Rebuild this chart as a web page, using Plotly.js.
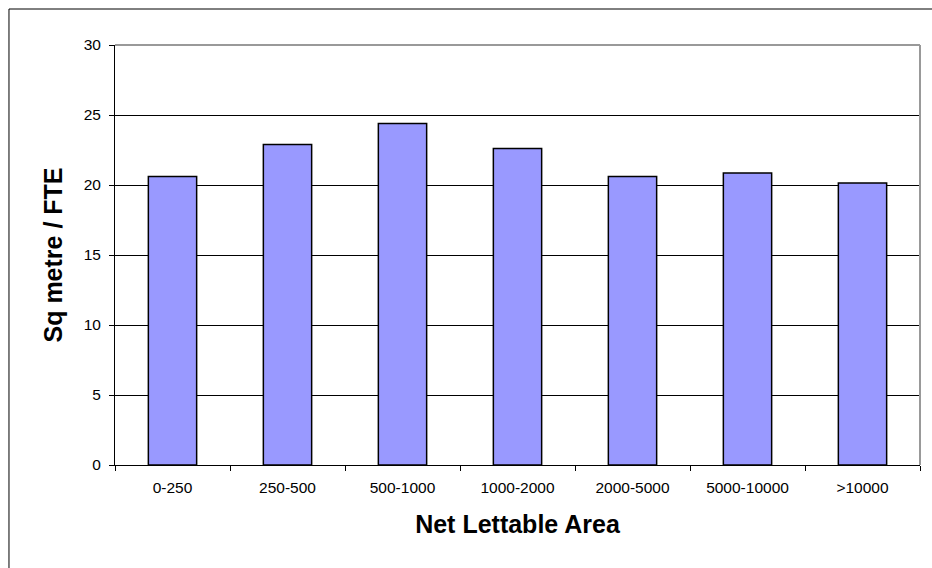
<!DOCTYPE html>
<html>
<head>
<meta charset="utf-8">
<script src="https://cdn.plot.ly/plotly-3.0.1.min.js"></script>
<style>
  html, body { margin: 0; padding: 0; background: #fff; overflow: hidden; }
  #chart { width: 932px; height: 568px; }
</style>
</head>
<body>
<div id="chart"></div>
<script>
// Space per full-time employee, by size band of net lettable area
const categories = ['0-250', '250-500', '500-1000', '1000-2000', '2000-5000', '5000-10000', '>10000'];
const sqMetrePerFte = [20.6, 22.9, 24.4, 22.6, 20.6, 20.85, 20.15];
const yTickValues = [0, 5, 10, 15, 20, 25, 30];

const font = 'Liberation Sans, Arial, sans-serif';

const trace = {
  type: 'bar',
  x: categories,
  y: sqMetrePerFte,
  marker: { color: '#9999FF', line: { color: '#000000', width: 1.5 } },
  hoverinfo: 'x+y'
};

const layout = {
  width: 932,
  height: 568,
  margin: { l: 115, r: 12, t: 45, b: 103 },
  paper_bgcolor: '#ffffff',
  plot_bgcolor: '#ffffff',
  showlegend: false,
  bargap: 0.58,
  font: { family: font, size: 15, color: '#000000' },
  xaxis: {
    type: 'category',
    showline: true,
    linecolor: '#000000',
    linewidth: 1,
    ticks: 'outside',
    tickson: 'boundaries',
    ticklen: 5,
    tickcolor: '#000000',
    ticklabelstandoff: 8,
    showgrid: false,
    zeroline: false,
    tickfont: { family: font, size: 15.5, color: '#000000' },
    title: { text: 'Net Lettable Area', font: { family: font, size: 25, color: '#000000', weight: 'bold' }, standoff: 20 }
  },
  yaxis: {
    range: [0, 30],
    tickvals: yTickValues,
    ticktext: yTickValues.map(String),
    showline: true,
    linecolor: '#000000',
    linewidth: 1,
    ticks: 'outside',
    ticklen: 5,
    tickcolor: '#000000',
    ticklabelstandoff: 5,
    showgrid: true,
    gridcolor: '#000000',
    gridwidth: 1,
    zeroline: false,
    tickfont: { family: font, size: 15.5, color: '#000000' },
    title: { text: 'Sq metre / FTE', font: { family: font, size: 25, color: '#000000', weight: 'bold' }, standoff: 13 }
  },
  shapes: [
    // grey frame along the top and right of the plotting area
    { type: 'line', xref: 'paper', yref: 'paper', x0: 0, x1: 1, y0: 1, y1: 1, line: { color: '#999999', width: 2 } },
    { type: 'line', xref: 'paper', yref: 'paper', x0: 1, x1: 1, y0: 0, y1: 1, line: { color: '#999999', width: 2 } },
    // outer chart border: top and left edges (the others run off the page)
    { type: 'line', xref: 'paper', yref: 'paper', x0: -0.1317, x1: 1.02, y0: 1.0857, y1: 1.0857,
      line: { color: '#000000', width: 1 }, layer: 'below' },
    { type: 'line', xref: 'paper', yref: 'paper', x0: -0.1317, x1: -0.1317, y0: -0.3, y1: 1.0857,
      line: { color: '#000000', width: 1 }, layer: 'below' }
  ]
};

Plotly.newPlot('chart', [trace], layout, { displayModeBar: false, staticPlot: true });
</script>
</body>
</html>
